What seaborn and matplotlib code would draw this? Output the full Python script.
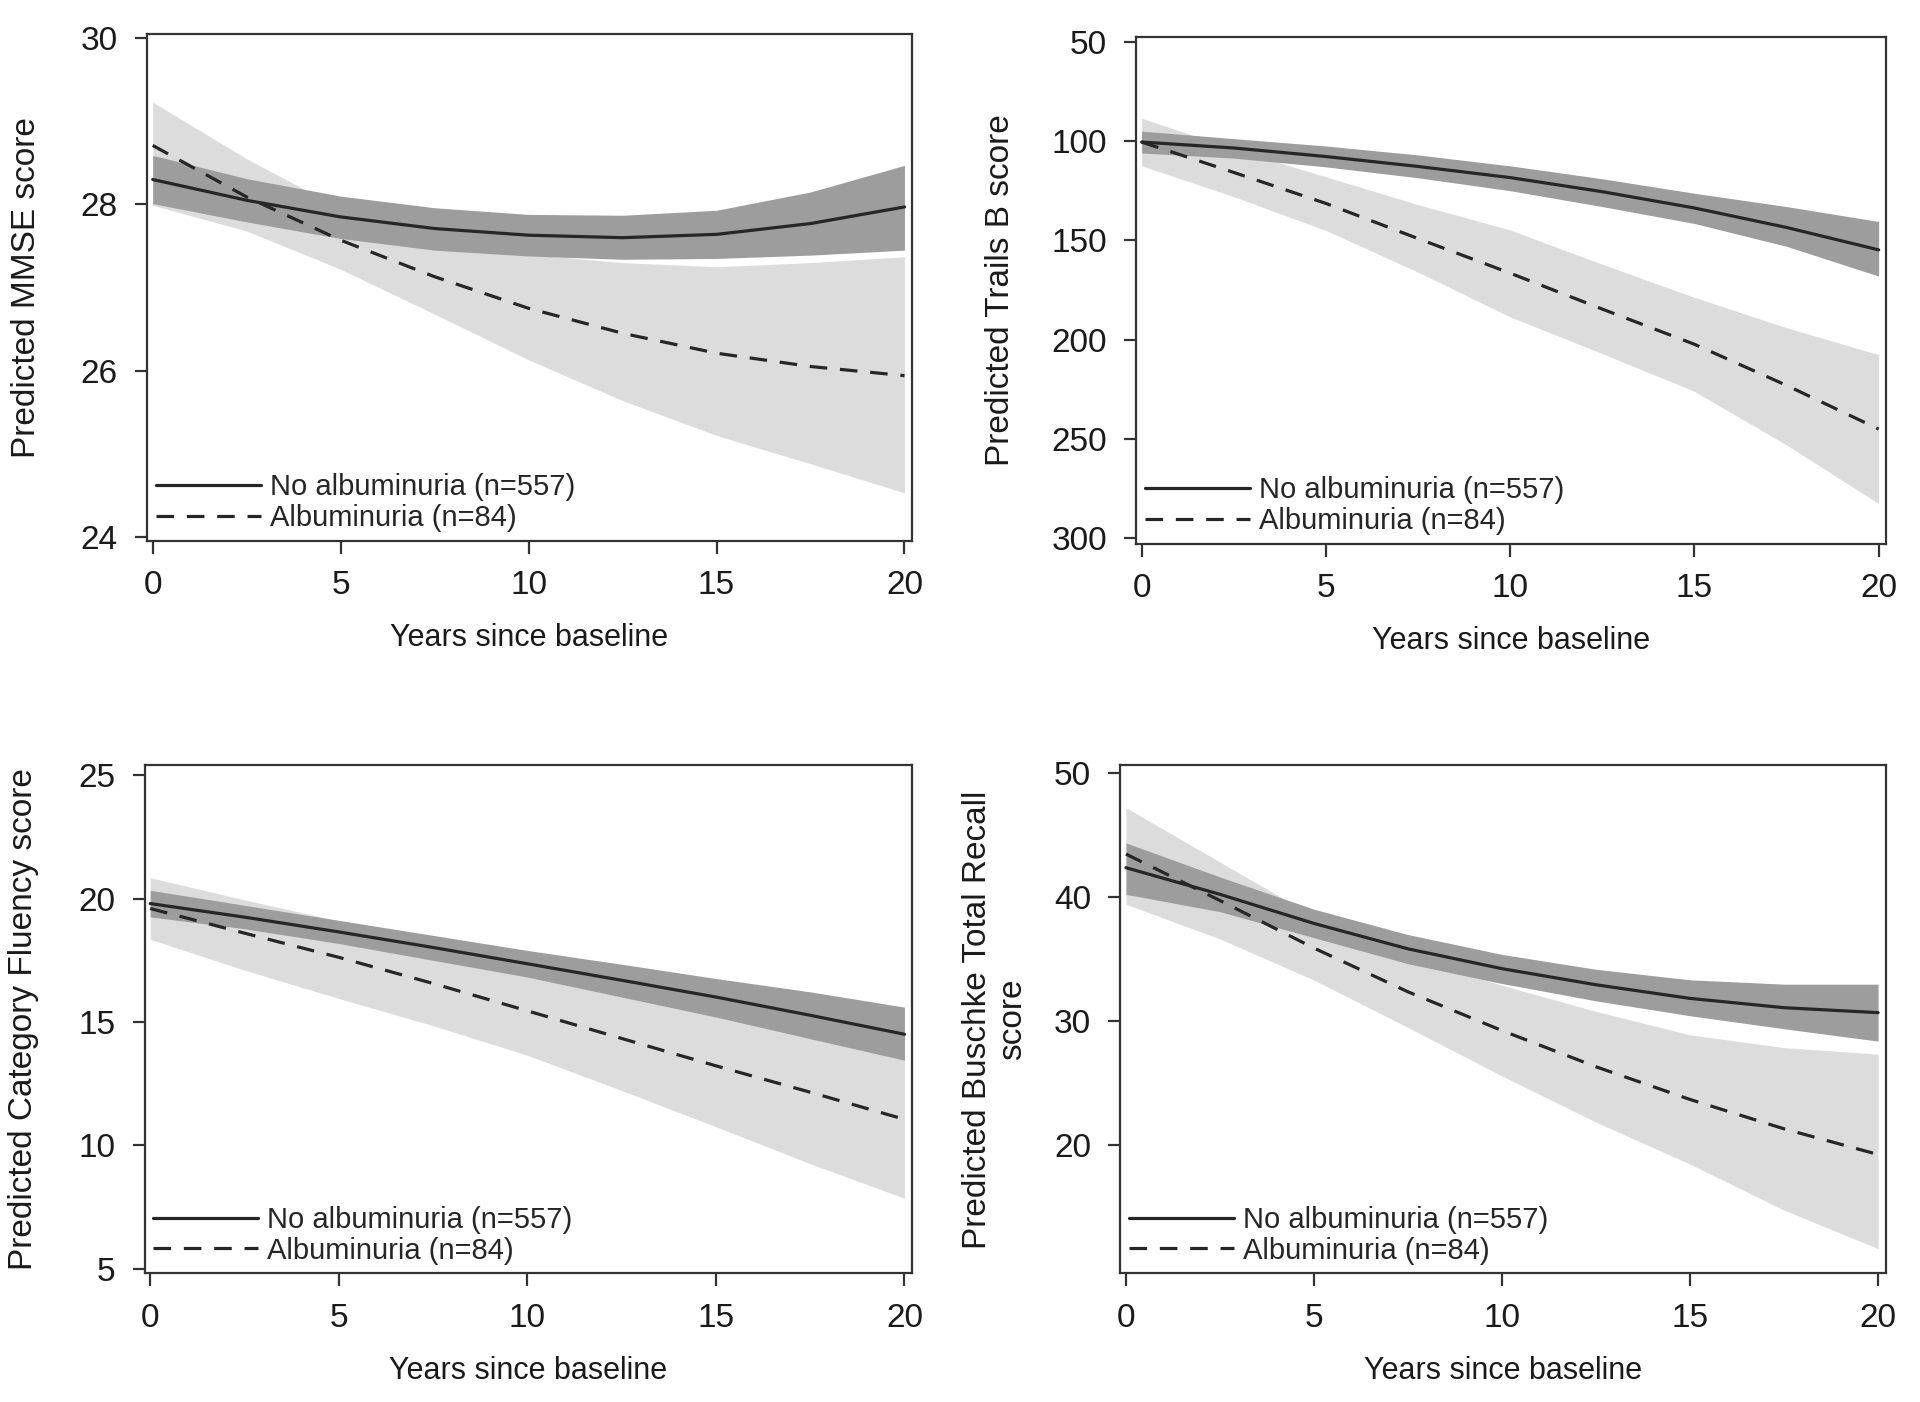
import matplotlib
matplotlib.use("Agg")
import matplotlib.pyplot as plt
import seaborn as sns
import pandas as pd

# shared x grid (years since baseline)
years = [0, 2.5, 5, 7.5, 10, 12.5, 15, 17.5, 20]
groups = ['No albuminuria (n=557)', 'Albuminuria (n=84)']

# MMSE
mmse_no = [28.30, 28.05, 27.85, 27.71, 27.63, 27.60, 27.64, 27.77, 27.97]
mmse_no_lo = [28.01, 27.79, 27.59, 27.45, 27.38, 27.34, 27.35, 27.39, 27.45]
mmse_no_hi = [28.59, 28.31, 28.10, 27.96, 27.88, 27.87, 27.93, 28.15, 28.47]
mmse_alb = [28.71, 28.09, 27.57, 27.13, 26.75, 26.45, 26.21, 26.05, 25.94]
mmse_alb_lo = [27.99, 27.68, 27.22, 26.68, 26.13, 25.64, 25.22, 24.88, 24.53]
mmse_alb_hi = [29.23, 28.55, 27.95, 27.60, 27.40, 27.30, 27.25, 27.30, 27.37]

# Trails B
tb_no = [100.5, 103.5, 107.8, 112.8, 118.4, 125.5, 133.7, 143.5, 154.8]
tb_no_lo = [95.0, 98.8, 102.5, 107.0, 112.5, 119.0, 126.3, 133.0, 140.5]
tb_no_hi = [106.0, 108.6, 113.0, 118.5, 125.0, 133.0, 141.5, 153.0, 168.0]
tb_alb = [100.5, 115.8, 131.4, 149.1, 166.5, 184.6, 202.3, 223.0, 245.0]
tb_alb_lo = [88.5, 104.0, 118.0, 132.0, 144.8, 162.0, 178.7, 194.0, 207.5]
tb_alb_hi = [112.5, 128.0, 145.0, 166.0, 188.5, 207.0, 226.0, 253.0, 282.5]

# Category fluency
cf_no = [19.80, 19.25, 18.65, 18.02, 17.36, 16.69, 16.01, 15.27, 14.50]
cf_no_lo = [19.26, 18.78, 18.18, 17.50, 16.82, 16.01, 15.20, 14.32, 13.45]
cf_no_hi = [20.34, 19.73, 19.12, 18.51, 17.90, 17.34, 16.76, 16.22, 15.60]
cf_alb = [19.60, 18.60, 17.62, 16.56, 15.45, 14.33, 13.22, 12.15, 11.05]
cf_alb_lo = [18.35, 17.10, 15.95, 14.85, 13.65, 12.22, 10.75, 9.25, 7.85]
cf_alb_hi = [20.85, 19.95, 19.10, 18.20, 17.20, 16.40, 15.60, 14.90, 14.20]

# Buschke total recall
br_no = [42.35, 40.20, 37.85, 35.80, 34.20, 32.90, 31.80, 31.05, 30.65]
br_no_lo = [40.20, 38.80, 36.70, 34.60, 33.00, 31.60, 30.40, 29.35, 28.35]
br_no_hi = [44.35, 41.60, 39.00, 36.95, 35.35, 34.15, 33.30, 32.95, 32.95]
br_alb = [43.45, 39.70, 35.86, 32.33, 29.20, 26.28, 23.64, 21.27, 19.20]
br_alb_lo = [39.40, 36.60, 33.28, 29.45, 25.54, 21.81, 18.42, 14.71, 11.60]
br_alb_hi = [47.20, 42.80, 38.44, 35.20, 32.86, 30.75, 28.86, 27.83, 27.30]

sns.set_style("ticks")
plt.rcParams['font.family'] = ['Liberation Sans', 'DejaVu Sans']

LIGHT = '#dcdcdc'
DARK = '#9d9d9d'
LINE = '#262626'
FRAME = '#333333'

fig = plt.figure(figsize=(19.2, 14.02), dpi=100)


def panel(rect, no, no_lo, no_hi, alb, alb_lo, alb_hi, ylabel, ylim, yticks, ylab_x):
    ax = fig.add_axes(rect)
    ax.fill_between(years, alb_lo, alb_hi, color=LIGHT, lw=0)
    ax.fill_between(years, no_lo, no_hi, color=DARK, lw=0)
    df = pd.DataFrame({
        'year': years + years,
        'score': no + alb,
        'group': [groups[0]] * len(years) + [groups[1]] * len(years),
    })
    sns.lineplot(data=df, x='year', y='score', style='group', style_order=groups,
                 dashes={groups[0]: '', groups[1]: (5.5, 4)}, color=LINE,
                 linewidth=2.3, errorbar=None, legend=False, ax=ax)
    ax.set_xlim(-0.15, 20.2)
    ax.set_ylim(*ylim)
    ax.set_xticks([0, 5, 10, 15, 20])
    ax.set_yticks(yticks)
    for sp in ax.spines.values():
        sp.set_visible(True)
        sp.set_linewidth(1.6)
        sp.set_color(FRAME)
    ax.tick_params(direction='out', length=9, width=1.6, color=FRAME,
                   labelsize=24, pad=12, labelcolor='#1a1a1a')
    ax.set_xlabel('Years since baseline', fontsize=22, color='#1a1a1a')
    ax.set_ylabel(ylabel, fontsize=24, color='#1a1a1a', multialignment='center')
    ax.xaxis.set_label_coords(0.5, -0.162)
    ax.yaxis.set_label_coords(ylab_x, 0.5)
    lines = ax.get_lines()
    ax.legend(lines[:2], groups, loc='lower left', frameon=False, fontsize=21,
              handlelength=3.6, handletextpad=0.3, labelspacing=0.1,
              borderaxespad=0.1, borderpad=0.2)
    return ax


panel([0.0766, 0.6141, 0.3984, 0.3616], mmse_no, mmse_no_lo, mmse_no_hi,
      mmse_alb, mmse_alb_lo, mmse_alb_hi, 'Predicted MMSE score',
      (23.95, 30.05), [24, 26, 28, 30], -0.138)
panel([0.5917, 0.6122, 0.3906, 0.3616], tb_no, tb_no_lo, tb_no_hi,
      tb_alb, tb_alb_lo, tb_alb_hi, 'Predicted Trails B score',
      (302.7, 47.5), [50, 100, 150, 200, 250, 300], -0.16)
panel([0.0753, 0.0917, 0.3997, 0.3623], cf_no, cf_no_lo, cf_no_hi,
      cf_alb, cf_alb_lo, cf_alb_hi, 'Predicted Category Fluency score',
      (4.8, 25.4), [5, 10, 15, 20, 25], -0.138)
panel([0.5835, 0.0917, 0.3986, 0.3623], br_no, br_no_lo, br_no_hi,
      br_alb, br_alb_lo, br_alb_hi, 'Predicted Buschke Total Recall\nscore',
      (9.6, 50.6), [20, 30, 40, 50], -0.12)

fig.savefig('out.png', dpi=100)
plt.close(fig)
